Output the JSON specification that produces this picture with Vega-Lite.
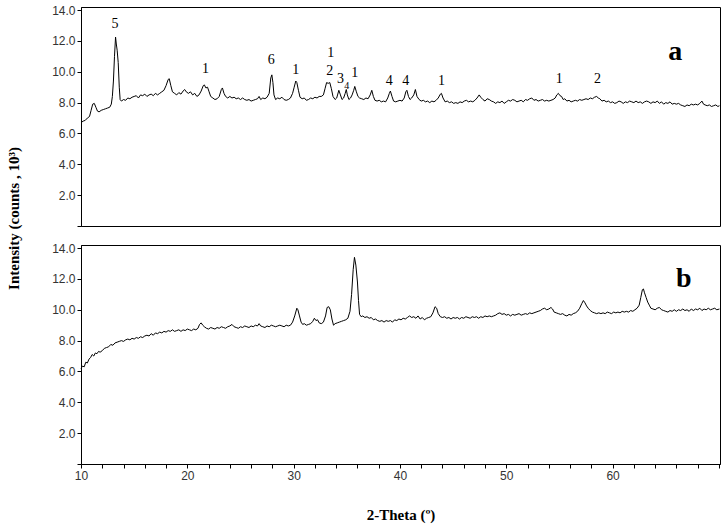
{
"$schema": "https://vega.github.io/schema/vega-lite/v6.json",
"background": "white",
"padding": {"left": 6, "top": 3, "right": 5, "bottom": 5},
"bounds": "flush",
"spacing": 19,
"config": {
  "view": {"stroke": "black", "strokeWidth": 1},
  "axis": {"grid": false, "domainColor": "black", "tickColor": "black", "tickSize": 4, "labelFont": "Liberation Sans", "labelFontSize": 12, "labelColor": "#333", "labelPadding": 2, "labelOverlap": false, "titleFont": "Liberation Serif", "titleFontSize": 15, "titleFontWeight": "bold", "titleColor": "black"}
},
"datasets": {
"a": [
{"x":10.0,"y":6.7},{"x":10.2,"y":6.8},{"x":10.4,"y":6.85},{"x":10.6,"y":7.0},{"x":10.8,"y":7.1},{"x":10.95,"y":7.5},{"x":11.1,"y":7.9},{"x":11.25,"y":7.95},{"x":11.4,"y":7.7},{"x":11.55,"y":7.45},{"x":11.7,"y":7.4},{"x":11.9,"y":7.5},{"x":12.1,"y":7.55},{"x":12.3,"y":7.6},{"x":12.5,"y":7.65},{"x":12.7,"y":7.7},{"x":12.85,"y":7.9},{"x":12.95,"y":8.4},{"x":13.05,"y":9.4},{"x":13.15,"y":11.0},{"x":13.25,"y":12.25},{"x":13.32,"y":11.8},{"x":13.4,"y":11.4},{"x":13.5,"y":10.6},{"x":13.6,"y":9.0},{"x":13.68,"y":8.2},{"x":13.8,"y":8.1},{"x":14.0,"y":8.2},{"x":14.2,"y":8.15},{"x":14.4,"y":8.3},{"x":14.6,"y":8.25},{"x":14.8,"y":8.35},{"x":15.0,"y":8.4},{"x":15.2,"y":8.45},{"x":15.4,"y":8.3},{"x":15.6,"y":8.5},{"x":15.8,"y":8.45},{"x":16.0,"y":8.55},{"x":16.2,"y":8.4},{"x":16.4,"y":8.5},{"x":16.6,"y":8.55},{"x":16.8,"y":8.45},{"x":17.0,"y":8.6},{"x":17.2,"y":8.5},{"x":17.4,"y":8.6},{"x":17.6,"y":8.7},{"x":17.8,"y":8.8},{"x":18.0,"y":9.1},{"x":18.2,"y":9.5},{"x":18.3,"y":9.55},{"x":18.45,"y":9.1},{"x":18.6,"y":8.7},{"x":18.8,"y":8.6},{"x":19.0,"y":8.5},{"x":19.2,"y":8.65},{"x":19.4,"y":8.55},{"x":19.6,"y":8.75},{"x":19.75,"y":8.85},{"x":19.9,"y":8.7},{"x":20.1,"y":8.6},{"x":20.3,"y":8.7},{"x":20.5,"y":8.5},{"x":20.7,"y":8.6},{"x":20.9,"y":8.4},{"x":21.1,"y":8.5},{"x":21.3,"y":8.75},{"x":21.5,"y":9.1},{"x":21.6,"y":9.15},{"x":21.75,"y":8.95},{"x":21.9,"y":9.0},{"x":22.05,"y":8.7},{"x":22.2,"y":8.4},{"x":22.4,"y":8.3},{"x":22.6,"y":8.2},{"x":22.8,"y":8.25},{"x":23.0,"y":8.4},{"x":23.2,"y":8.85},{"x":23.3,"y":8.95},{"x":23.45,"y":8.6},{"x":23.6,"y":8.4},{"x":23.8,"y":8.3},{"x":24.0,"y":8.4},{"x":24.2,"y":8.3},{"x":24.4,"y":8.35},{"x":24.6,"y":8.25},{"x":24.8,"y":8.3},{"x":25.0,"y":8.2},{"x":25.2,"y":8.3},{"x":25.4,"y":8.2},{"x":25.6,"y":8.15},{"x":25.8,"y":8.2},{"x":26.0,"y":8.1},{"x":26.2,"y":8.15},{"x":26.4,"y":8.2},{"x":26.6,"y":8.25},{"x":26.75,"y":8.4},{"x":26.9,"y":8.2},{"x":27.1,"y":8.3},{"x":27.3,"y":8.25},{"x":27.5,"y":8.35},{"x":27.7,"y":8.6},{"x":27.85,"y":9.6},{"x":27.95,"y":9.8},{"x":28.05,"y":9.3},{"x":28.15,"y":8.5},{"x":28.3,"y":8.2},{"x":28.5,"y":8.3},{"x":28.7,"y":8.25},{"x":28.9,"y":8.35},{"x":29.1,"y":8.2},{"x":29.3,"y":8.15},{"x":29.5,"y":8.2},{"x":29.7,"y":8.3},{"x":29.9,"y":8.6},{"x":30.05,"y":9.0},{"x":30.2,"y":9.4},{"x":30.3,"y":9.3},{"x":30.45,"y":8.8},{"x":30.6,"y":8.35},{"x":30.8,"y":8.25},{"x":31.0,"y":8.3},{"x":31.2,"y":8.15},{"x":31.4,"y":8.2},{"x":31.6,"y":8.3},{"x":31.8,"y":8.25},{"x":32.0,"y":8.35},{"x":32.2,"y":8.3},{"x":32.4,"y":8.4},{"x":32.6,"y":8.4},{"x":32.8,"y":8.5},{"x":32.95,"y":8.9},{"x":33.1,"y":9.3},{"x":33.25,"y":9.25},{"x":33.4,"y":9.3},{"x":33.55,"y":8.9},{"x":33.7,"y":8.4},{"x":33.9,"y":8.2},{"x":34.05,"y":8.3},{"x":34.25,"y":8.8},{"x":34.4,"y":8.5},{"x":34.55,"y":8.2},{"x":34.7,"y":8.3},{"x":34.85,"y":8.6},{"x":34.95,"y":8.85},{"x":35.05,"y":8.5},{"x":35.2,"y":8.2},{"x":35.35,"y":8.3},{"x":35.5,"y":8.5},{"x":35.65,"y":8.8},{"x":35.75,"y":9.05},{"x":35.9,"y":8.7},{"x":36.05,"y":8.4},{"x":36.2,"y":8.3},{"x":36.4,"y":8.25},{"x":36.6,"y":8.2},{"x":36.8,"y":8.3},{"x":37.0,"y":8.25},{"x":37.2,"y":8.5},{"x":37.35,"y":8.8},{"x":37.5,"y":8.4},{"x":37.65,"y":8.15},{"x":37.85,"y":8.1},{"x":38.05,"y":8.15},{"x":38.25,"y":8.05},{"x":38.45,"y":8.1},{"x":38.65,"y":8.05},{"x":38.85,"y":8.3},{"x":39.0,"y":8.6},{"x":39.1,"y":8.75},{"x":39.25,"y":8.4},{"x":39.4,"y":8.1},{"x":39.6,"y":8.05},{"x":39.8,"y":8.1},{"x":40.0,"y":8.15},{"x":40.2,"y":8.1},{"x":40.4,"y":8.3},{"x":40.55,"y":8.7},{"x":40.65,"y":8.8},{"x":40.8,"y":8.4},{"x":40.95,"y":8.2},{"x":41.1,"y":8.3},{"x":41.3,"y":8.5},{"x":41.45,"y":8.85},{"x":41.6,"y":8.4},{"x":41.8,"y":8.2},{"x":42.0,"y":8.1},{"x":42.2,"y":8.15},{"x":42.4,"y":8.05},{"x":42.6,"y":8.1},{"x":42.8,"y":8.0},{"x":43.0,"y":8.1},{"x":43.2,"y":8.05},{"x":43.4,"y":8.15},{"x":43.6,"y":8.3},{"x":43.8,"y":8.55},{"x":43.9,"y":8.6},{"x":44.05,"y":8.3},{"x":44.25,"y":8.05},{"x":44.45,"y":8.1},{"x":44.65,"y":8.0},{"x":44.85,"y":8.05},{"x":45.05,"y":7.95},{"x":45.25,"y":8.0},{"x":45.45,"y":7.95},{"x":45.65,"y":8.05},{"x":45.85,"y":8.0},{"x":46.05,"y":8.1},{"x":46.25,"y":8.15},{"x":46.45,"y":8.05},{"x":46.65,"y":8.1},{"x":46.85,"y":8.05},{"x":47.05,"y":8.15},{"x":47.25,"y":8.3},{"x":47.45,"y":8.5},{"x":47.6,"y":8.35},{"x":47.8,"y":8.2},{"x":48.0,"y":8.1},{"x":48.2,"y":8.25},{"x":48.4,"y":8.2},{"x":48.6,"y":8.1},{"x":48.8,"y":8.05},{"x":49.0,"y":7.95},{"x":49.2,"y":8.05},{"x":49.4,"y":8.0},{"x":49.6,"y":8.1},{"x":49.8,"y":7.95},{"x":50.0,"y":8.05},{"x":50.2,"y":8.15},{"x":50.4,"y":8.1},{"x":50.6,"y":8.2},{"x":50.8,"y":8.15},{"x":51.0,"y":8.05},{"x":51.2,"y":8.1},{"x":51.4,"y":8.15},{"x":51.6,"y":8.05},{"x":51.8,"y":8.2},{"x":52.0,"y":8.15},{"x":52.2,"y":8.25},{"x":52.4,"y":8.3},{"x":52.6,"y":8.15},{"x":52.8,"y":8.2},{"x":53.0,"y":8.1},{"x":53.2,"y":8.15},{"x":53.4,"y":8.2},{"x":53.6,"y":8.1},{"x":53.8,"y":8.15},{"x":54.0,"y":8.1},{"x":54.2,"y":8.15},{"x":54.4,"y":8.2},{"x":54.6,"y":8.3},{"x":54.75,"y":8.5},{"x":54.9,"y":8.6},{"x":55.05,"y":8.45},{"x":55.2,"y":8.4},{"x":55.35,"y":8.2},{"x":55.5,"y":8.25},{"x":55.7,"y":8.1},{"x":55.9,"y":8.15},{"x":56.1,"y":8.05},{"x":56.3,"y":8.1},{"x":56.5,"y":8.15},{"x":56.7,"y":8.1},{"x":56.9,"y":8.2},{"x":57.1,"y":8.15},{"x":57.3,"y":8.2},{"x":57.5,"y":8.25},{"x":57.7,"y":8.2},{"x":57.9,"y":8.3},{"x":58.1,"y":8.25},{"x":58.3,"y":8.35},{"x":58.5,"y":8.4},{"x":58.65,"y":8.3},{"x":58.8,"y":8.25},{"x":59.0,"y":8.1},{"x":59.2,"y":8.15},{"x":59.4,"y":8.05},{"x":59.6,"y":8.1},{"x":59.8,"y":8.0},{"x":60.0,"y":8.05},{"x":60.2,"y":7.95},{"x":60.4,"y":8.0},{"x":60.6,"y":8.1},{"x":60.8,"y":8.05},{"x":61.0,"y":7.95},{"x":61.2,"y":8.05},{"x":61.4,"y":8.0},{"x":61.6,"y":8.1},{"x":61.8,"y":8.05},{"x":62.0,"y":8.0},{"x":62.2,"y":8.1},{"x":62.4,"y":8.0},{"x":62.6,"y":8.05},{"x":62.8,"y":7.95},{"x":63.0,"y":8.05},{"x":63.2,"y":8.1},{"x":63.4,"y":8.05},{"x":63.6,"y":7.95},{"x":63.8,"y":8.05},{"x":64.0,"y":8.0},{"x":64.2,"y":8.1},{"x":64.4,"y":7.95},{"x":64.6,"y":8.05},{"x":64.8,"y":7.9},{"x":65.0,"y":8.0},{"x":65.2,"y":7.95},{"x":65.4,"y":8.05},{"x":65.6,"y":7.9},{"x":65.8,"y":7.95},{"x":66.0,"y":7.9},{"x":66.2,"y":7.95},{"x":66.4,"y":7.85},{"x":66.6,"y":7.8},{"x":66.8,"y":7.75},{"x":67.0,"y":7.85},{"x":67.2,"y":7.8},{"x":67.4,"y":7.9},{"x":67.6,"y":7.85},{"x":67.8,"y":7.9},{"x":68.0,"y":7.85},{"x":68.2,"y":7.95},{"x":68.4,"y":8.1},{"x":68.55,"y":7.9},{"x":68.7,"y":7.85},{"x":68.9,"y":7.8},{"x":69.1,"y":7.85},{"x":69.3,"y":7.75},{"x":69.5,"y":7.8},{"x":69.7,"y":7.85},{"x":69.9,"y":7.75},{"x":70.05,"y":7.8}
],
"b": [
{"x":10.0,"y":6.2},{"x":10.15,"y":6.35},{"x":10.3,"y":6.3},{"x":10.45,"y":6.6},{"x":10.6,"y":6.55},{"x":10.75,"y":6.8},{"x":10.9,"y":6.9},{"x":11.05,"y":7.1},{"x":11.2,"y":7.0},{"x":11.35,"y":7.2},{"x":11.5,"y":7.15},{"x":11.65,"y":7.3},{"x":11.8,"y":7.25},{"x":12.0,"y":7.35},{"x":12.2,"y":7.5},{"x":12.4,"y":7.55},{"x":12.6,"y":7.6},{"x":12.8,"y":7.75},{"x":13.0,"y":7.7},{"x":13.2,"y":7.85},{"x":13.4,"y":7.9},{"x":13.6,"y":7.95},{"x":13.8,"y":8.0},{"x":14.0,"y":7.95},{"x":14.2,"y":8.05},{"x":14.4,"y":8.1},{"x":14.6,"y":8.05},{"x":14.8,"y":8.15},{"x":15.0,"y":8.1},{"x":15.2,"y":8.2},{"x":15.4,"y":8.15},{"x":15.6,"y":8.25},{"x":15.8,"y":8.2},{"x":16.0,"y":8.3},{"x":16.2,"y":8.35},{"x":16.4,"y":8.3},{"x":16.6,"y":8.45},{"x":16.8,"y":8.35},{"x":17.0,"y":8.5},{"x":17.2,"y":8.45},{"x":17.4,"y":8.55},{"x":17.6,"y":8.5},{"x":17.8,"y":8.6},{"x":18.0,"y":8.55},{"x":18.2,"y":8.65},{"x":18.4,"y":8.6},{"x":18.6,"y":8.7},{"x":18.8,"y":8.6},{"x":19.0,"y":8.65},{"x":19.2,"y":8.7},{"x":19.4,"y":8.6},{"x":19.6,"y":8.7},{"x":19.8,"y":8.65},{"x":20.0,"y":8.75},{"x":20.2,"y":8.7},{"x":20.4,"y":8.65},{"x":20.6,"y":8.75},{"x":20.8,"y":8.7},{"x":21.0,"y":8.8},{"x":21.15,"y":9.05},{"x":21.3,"y":9.15},{"x":21.45,"y":9.0},{"x":21.6,"y":8.9},{"x":21.8,"y":8.8},{"x":22.0,"y":8.75},{"x":22.2,"y":8.85},{"x":22.4,"y":8.8},{"x":22.6,"y":8.75},{"x":22.8,"y":8.85},{"x":23.0,"y":8.8},{"x":23.2,"y":8.9},{"x":23.4,"y":8.85},{"x":23.6,"y":8.8},{"x":23.8,"y":8.9},{"x":24.0,"y":8.95},{"x":24.2,"y":9.05},{"x":24.4,"y":8.9},{"x":24.6,"y":8.85},{"x":24.8,"y":8.8},{"x":25.0,"y":8.9},{"x":25.2,"y":8.85},{"x":25.4,"y":8.95},{"x":25.6,"y":8.9},{"x":25.8,"y":8.85},{"x":26.0,"y":8.95},{"x":26.2,"y":8.9},{"x":26.4,"y":9.0},{"x":26.6,"y":8.95},{"x":26.75,"y":9.1},{"x":26.9,"y":8.95},{"x":27.1,"y":8.9},{"x":27.3,"y":8.85},{"x":27.5,"y":8.95},{"x":27.7,"y":8.9},{"x":27.9,"y":9.0},{"x":28.1,"y":8.95},{"x":28.3,"y":8.9},{"x":28.5,"y":8.95},{"x":28.7,"y":9.0},{"x":28.9,"y":8.95},{"x":29.1,"y":8.9},{"x":29.3,"y":9.0},{"x":29.5,"y":8.95},{"x":29.7,"y":9.0},{"x":29.9,"y":9.2},{"x":30.1,"y":9.6},{"x":30.3,"y":10.1},{"x":30.4,"y":10.0},{"x":30.55,"y":9.6},{"x":30.7,"y":9.2},{"x":30.85,"y":9.05},{"x":31.0,"y":9.1},{"x":31.2,"y":9.0},{"x":31.4,"y":9.05},{"x":31.6,"y":9.1},{"x":31.8,"y":9.25},{"x":31.95,"y":9.45},{"x":32.1,"y":9.3},{"x":32.25,"y":9.35},{"x":32.4,"y":9.15},{"x":32.6,"y":9.1},{"x":32.8,"y":9.2},{"x":33.0,"y":9.6},{"x":33.15,"y":10.15},{"x":33.3,"y":10.2},{"x":33.45,"y":10.0},{"x":33.6,"y":9.4},{"x":33.75,"y":9.0},{"x":33.9,"y":9.1},{"x":34.1,"y":9.15},{"x":34.3,"y":9.2},{"x":34.5,"y":9.25},{"x":34.7,"y":9.3},{"x":34.9,"y":9.35},{"x":35.1,"y":9.45},{"x":35.3,"y":9.9},{"x":35.45,"y":11.0},{"x":35.6,"y":12.6},{"x":35.72,"y":13.4},{"x":35.85,"y":12.9},{"x":36.0,"y":11.8},{"x":36.1,"y":10.6},{"x":36.2,"y":9.7},{"x":36.35,"y":9.55},{"x":36.5,"y":9.6},{"x":36.7,"y":9.5},{"x":36.9,"y":9.55},{"x":37.1,"y":9.45},{"x":37.3,"y":9.5},{"x":37.5,"y":9.35},{"x":37.7,"y":9.4},{"x":37.9,"y":9.3},{"x":38.1,"y":9.25},{"x":38.3,"y":9.3},{"x":38.5,"y":9.2},{"x":38.7,"y":9.3},{"x":38.9,"y":9.25},{"x":39.1,"y":9.3},{"x":39.3,"y":9.2},{"x":39.5,"y":9.35},{"x":39.7,"y":9.3},{"x":39.9,"y":9.4},{"x":40.1,"y":9.35},{"x":40.3,"y":9.45},{"x":40.5,"y":9.4},{"x":40.7,"y":9.5},{"x":40.9,"y":9.6},{"x":41.1,"y":9.5},{"x":41.3,"y":9.55},{"x":41.5,"y":9.45},{"x":41.7,"y":9.6},{"x":41.9,"y":9.4},{"x":42.1,"y":9.5},{"x":42.3,"y":9.35},{"x":42.5,"y":9.45},{"x":42.7,"y":9.5},{"x":42.9,"y":9.55},{"x":43.1,"y":9.8},{"x":43.3,"y":10.2},{"x":43.45,"y":10.1},{"x":43.6,"y":9.75},{"x":43.8,"y":9.55},{"x":44.0,"y":9.5},{"x":44.2,"y":9.55},{"x":44.4,"y":9.45},{"x":44.6,"y":9.5},{"x":44.8,"y":9.4},{"x":45.0,"y":9.5},{"x":45.2,"y":9.45},{"x":45.4,"y":9.5},{"x":45.6,"y":9.4},{"x":45.8,"y":9.5},{"x":46.0,"y":9.45},{"x":46.2,"y":9.55},{"x":46.4,"y":9.5},{"x":46.6,"y":9.45},{"x":46.8,"y":9.55},{"x":47.0,"y":9.5},{"x":47.2,"y":9.55},{"x":47.4,"y":9.45},{"x":47.6,"y":9.55},{"x":47.8,"y":9.5},{"x":48.0,"y":9.6},{"x":48.2,"y":9.55},{"x":48.4,"y":9.6},{"x":48.6,"y":9.55},{"x":48.8,"y":9.6},{"x":49.0,"y":9.65},{"x":49.2,"y":9.75},{"x":49.4,"y":9.8},{"x":49.6,"y":9.7},{"x":49.8,"y":9.75},{"x":50.0,"y":9.65},{"x":50.2,"y":9.7},{"x":50.4,"y":9.6},{"x":50.6,"y":9.7},{"x":50.8,"y":9.65},{"x":51.0,"y":9.7},{"x":51.2,"y":9.75},{"x":51.4,"y":9.65},{"x":51.6,"y":9.7},{"x":51.8,"y":9.75},{"x":52.0,"y":9.7},{"x":52.2,"y":9.8},{"x":52.4,"y":9.75},{"x":52.6,"y":9.8},{"x":52.8,"y":9.85},{"x":53.0,"y":9.9},{"x":53.2,"y":9.95},{"x":53.4,"y":10.05},{"x":53.6,"y":10.1},{"x":53.8,"y":10.0},{"x":54.0,"y":10.05},{"x":54.2,"y":10.15},{"x":54.35,"y":10.05},{"x":54.5,"y":9.85},{"x":54.7,"y":9.8},{"x":54.9,"y":9.75},{"x":55.1,"y":9.7},{"x":55.3,"y":9.75},{"x":55.5,"y":9.65},{"x":55.7,"y":9.6},{"x":55.9,"y":9.7},{"x":56.1,"y":9.65},{"x":56.3,"y":9.75},{"x":56.5,"y":9.8},{"x":56.7,"y":9.9},{"x":56.9,"y":10.1},{"x":57.1,"y":10.4},{"x":57.25,"y":10.6},{"x":57.4,"y":10.45},{"x":57.55,"y":10.25},{"x":57.7,"y":10.1},{"x":57.9,"y":9.95},{"x":58.1,"y":9.85},{"x":58.3,"y":9.8},{"x":58.5,"y":9.75},{"x":58.7,"y":9.8},{"x":58.9,"y":9.75},{"x":59.1,"y":9.8},{"x":59.3,"y":9.75},{"x":59.5,"y":9.85},{"x":59.7,"y":9.8},{"x":59.9,"y":9.75},{"x":60.1,"y":9.85},{"x":60.3,"y":9.8},{"x":60.5,"y":9.85},{"x":60.7,"y":9.8},{"x":60.9,"y":9.9},{"x":61.1,"y":9.85},{"x":61.3,"y":9.9},{"x":61.5,"y":9.85},{"x":61.7,"y":9.95},{"x":61.9,"y":9.9},{"x":62.1,"y":10.0},{"x":62.3,"y":10.1},{"x":62.5,"y":10.3},{"x":62.65,"y":10.8},{"x":62.8,"y":11.3},{"x":62.9,"y":11.35},{"x":63.0,"y":11.1},{"x":63.15,"y":10.8},{"x":63.3,"y":10.5},{"x":63.45,"y":10.3},{"x":63.6,"y":10.1},{"x":63.8,"y":10.05},{"x":64.0,"y":10.0},{"x":64.2,"y":10.1},{"x":64.4,"y":10.15},{"x":64.6,"y":10.0},{"x":64.8,"y":9.95},{"x":65.0,"y":9.9},{"x":65.2,"y":9.85},{"x":65.4,"y":9.95},{"x":65.6,"y":9.9},{"x":65.8,"y":10.0},{"x":66.0,"y":9.9},{"x":66.2,"y":10.0},{"x":66.4,"y":9.95},{"x":66.6,"y":10.05},{"x":66.8,"y":9.95},{"x":67.0,"y":10.0},{"x":67.2,"y":9.9},{"x":67.4,"y":10.05},{"x":67.6,"y":9.95},{"x":67.8,"y":10.05},{"x":68.0,"y":10.0},{"x":68.2,"y":10.1},{"x":68.4,"y":9.95},{"x":68.6,"y":10.05},{"x":68.8,"y":10.0},{"x":69.0,"y":10.1},{"x":69.2,"y":10.0},{"x":69.4,"y":10.05},{"x":69.6,"y":10.1},{"x":69.8,"y":10.0},{"x":70.05,"y":10.05}
],
"labA": [
{"x":13.2,"y":13.1,"t":"5"},{"x":21.7,"y":10.17,"t":"1"},{"x":27.9,"y":10.76,"t":"6"},{"x":30.2,"y":10.1,"t":"1"},{"x":33.5,"y":11.23,"t":"1"},{"x":33.4,"y":10.05,"t":"2"},{"x":34.4,"y":9.53,"t":"3"},{"x":35.75,"y":9.94,"t":"1"},{"x":39.0,"y":9.4,"t":"4"},{"x":40.55,"y":9.4,"t":"4"},{"x":43.9,"y":9.4,"t":"1"},{"x":54.97,"y":9.5,"t":"1"},{"x":58.57,"y":9.5,"t":"2"}
],
"labSmall": [{"x":35.0,"y":9.1,"t":"4"}],
"panA": [{"x":65.9,"y":11.3,"t":"a"}],
"panB": [{"x":66.7,"y":12.0,"t":"b"}]
},
"vconcat": [
{
 "width": 639, "height": 219,
 "layer": [
  {"data": {"name": "a"}, "mark": {"type": "line", "color": "black", "strokeWidth": 1},
   "encoding": {
    "x": {"field": "x", "type": "quantitative", "scale": {"domain": [10, 70.1], "nice": false}, "axis": null},
    "y": {"field": "y", "type": "quantitative", "scale": {"domain": [0, 14.2], "nice": false},
          "axis": {"tickCount": 7, "labelExpr": "datum.value == 0 ? '' : format(datum.value, '.1f')", "labelOverlap": false, "title": "Intensity (counts , 10³)", "titleY": 211, "titlePadding": 30}}
   }},
  {"data": {"name": "labA"}, "mark": {"type": "text", "font": "Liberation Serif", "fontSize": 14, "color": "black", "align": "center", "baseline": "middle"},
   "encoding": {"x": {"field": "x", "type": "quantitative"}, "y": {"field": "y", "type": "quantitative"}, "text": {"field": "t"}}},
  {"data": {"name": "labSmall"}, "mark": {"type": "text", "font": "Liberation Serif", "fontSize": 10, "color": "black", "align": "center", "baseline": "middle"},
   "encoding": {"x": {"field": "x", "type": "quantitative"}, "y": {"field": "y", "type": "quantitative"}, "text": {"field": "t"}}},
  {"data": {"name": "panA"}, "mark": {"type": "text", "font": "Liberation Serif", "fontSize": 28, "fontWeight": "bold", "color": "black", "align": "center", "baseline": "middle"},
   "encoding": {"x": {"field": "x", "type": "quantitative"}, "y": {"field": "y", "type": "quantitative"}, "text": {"field": "t"}}}
 ]
},
{
 "width": 639, "height": 219,
 "layer": [
  {"data": {"name": "b"}, "mark": {"type": "line", "color": "black", "strokeWidth": 1},
   "encoding": {
    "x": {"field": "x", "type": "quantitative", "scale": {"domain": [10, 70.1], "nice": false},
          "axis": {"tickCount": 30, "labelExpr": "(datum.value % 10 === 0 && datum.value < 70) ? format(datum.value, 'd') : ''", "labelOverlap": false, "labelBound": false, "title": "2-Theta (º)", "titlePadding": 26, "labelFlush": false}},
    "y": {"field": "y", "type": "quantitative", "scale": {"domain": [0, 14.2], "nice": false},
          "axis": {"tickCount": 7, "labelExpr": "datum.value == 0 ? '' : format(datum.value, '.1f')", "labelOverlap": false, "title": null}}
   }},
  {"data": {"name": "panB"}, "mark": {"type": "text", "font": "Liberation Serif", "fontSize": 28, "fontWeight": "bold", "color": "black", "align": "center", "baseline": "middle"},
   "encoding": {"x": {"field": "x", "type": "quantitative"}, "y": {"field": "y", "type": "quantitative"}, "text": {"field": "t"}}}
 ]
}
]
}
